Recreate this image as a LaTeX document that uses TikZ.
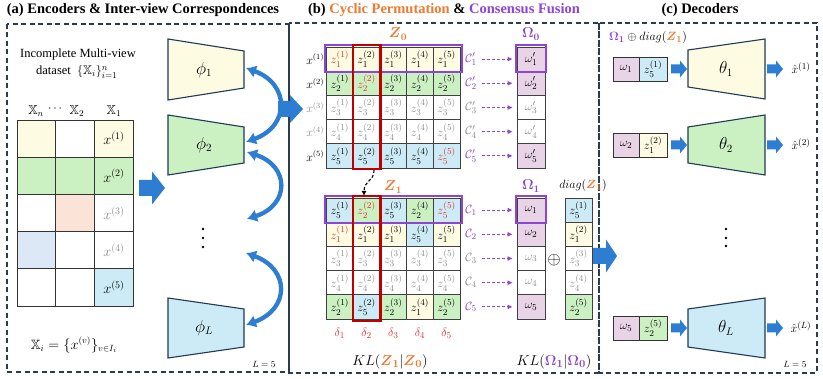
\documentclass[tikz,border=0pt]{standalone}
\usepackage{amsmath,amssymb}
\usepackage{fontspec}
\setmainfont{Liberation Serif}
\usetikzlibrary{arrows.meta}
\definecolor{cream}{HTML}{FEFBE3}
\definecolor{grn}{HTML}{CBF1C3}
\definecolor{cyanb}{HTML}{CDEBF6}
\definecolor{pinkc}{HTML}{E9D4E7}
\definecolor{peach}{HTML}{FBE4D7}
\definecolor{lblue}{HTML}{DCE8F5}
\definecolor{purp}{HTML}{8E44D4}
\definecolor{orng}{HTML}{EE7B30}
\definecolor{redb}{HTML}{C00000}
\definecolor{redt}{HTML}{E0302A}
\definecolor{arrb}{HTML}{2D7DD2}
\definecolor{navy}{HTML}{1E3A56}
\definecolor{dashc}{HTML}{2B3C4E}
\definecolor{grayt}{HTML}{8C8C8C}
\newcommand\bZ[1]{\boldsymbol{Z}_{\boldsymbol{#1}}}
\newcommand\bO[1]{\boldsymbol{\Omega}_{\boldsymbol{#1}}}
\newcommand\zrow[4]{%
  \foreach \zf/\zs/\zt [count=\zc] in {#4}{%
    \node[zcell, fill=\zf, text=\zt] (#1-#2-\zc) at ({326.5+(\zc-0.5)*26.7},{#3+12.1}) {$z_{\zs}^{(\zc)}$};}}
\newcommand\blockarrow[6]{\fill[arrb] (#1,#3-#4) -- (#5,#3-#4) -- (#5,#3-#6) -- (#2,#3) -- (#5,#3+#6) -- (#5,#3+#4) -- (#1,#3+#4) -- cycle;}
\begin{document}
\begin{tikzpicture}[x=1pt,y=-1pt,
  panel/.style={draw=dashc, dash pattern=on 5pt off 3.5pt, line width=1.1pt},
  title/.style={font=\fontsize{14.5}{16}\selectfont\bfseries, inner sep=0pt},
  tcell/.style={draw=black!80, line width=0.8pt, minimum width=38.8pt, minimum height=37.2pt, inner sep=0pt, font=\fontsize{14}{15}\selectfont},
  zcell/.style={draw=black!75, line width=0.6pt, minimum width=26.7pt, minimum height=24.2pt, inner sep=0pt, font=\fontsize{12.5}{13}\selectfont},
  ocell/.style={draw=black!75, line width=0.6pt, minimum width=28pt, minimum height=24.2pt, inner sep=0pt, font=\fontsize{12.5}{13}\selectfont},
  pcell/.style={draw=black!80, line width=0.7pt, minimum width=27pt, minimum height=24pt, inner sep=0pt, font=\fontsize{12.5}{13}\selectfont},
  enc/.style={draw=navy, line width=1.1pt},
  lbl/.style={inner sep=0pt},
  dasharr/.style={purp, dash pattern=on 3pt off 2pt, line width=1pt, -{Latex[length=5pt,width=5pt]}},
  curvarr/.style={arrb, line width=4.3pt, {Latex[length=10pt,width=13pt]}-{Latex[length=10pt,width=13pt]}},
  purpbox/.style={draw=purp, line width=2.2pt},
  redbox/.style={draw=redb, line width=2.2pt}
]
\useasboundingbox (0,0) rectangle (823,379);
\fill[white] (0,0) rectangle (823,379);

% ---------- titles ----------
\node[title] (ta) at (143,10) {(a) Encoders \& Inter-view Correspondences};
\node[title] (tb) at (444,10) {(b) \textcolor{orng}{Cyclic Permutation} \& \textcolor{purp}{Consensus Fusion}};
\node[title] (tc) at (700,10) {(c) Decoders};

% ---------- panels ----------
\draw[panel] (7,24) rectangle (289,372);
\draw[panel] (289,23) rectangle (599,373);
\draw[panel] (599,23) rectangle (817,373);

% ================= panel (a) =================
\node[lbl, font=\fontsize{12.5}{14}\selectfont] (inc) at (78,54) {Incomplete Multi-view};
\node[lbl, font=\fontsize{12.5}{14}\selectfont, anchor=west] (dset) at (36,72) {dataset\ \ $\{\mathbb{X}_i\}_{i=1}^{n}$};
\node[lbl, font=\fontsize{13}{14}\selectfont] (hXn) at (36,111) {$\mathbb{X}_n$};
\node[lbl, font=\fontsize{13}{14}\selectfont] (hdots) at (56,109) {$\cdots$};
\node[lbl, font=\fontsize{13}{14}\selectfont] (hX2) at (77,111) {$\mathbb{X}_2$};
\node[lbl, font=\fontsize{13}{14}\selectfont] (hX1) at (114,111) {$\mathbb{X}_1$};

\foreach \r/\fa/\fb/\fc/\tc in {1/cream/white/cream/black, 2/grn/grn/grn/black, 3/white/peach/white/grayt, 4/lblue/white/white/grayt, 5/white/white/cyanb/black}{
  \node[tcell, fill=\fa] (ta-\r-1) at (36.4,{120+(\r-0.5)*37.2}) {};
  \node[tcell, fill=\fb] (ta-\r-2) at (75.2,{120+(\r-0.5)*37.2}) {};
  \node[tcell, fill=\fc, text=\tc] (ta-\r-3) at (114,{120+(\r-0.5)*37.2}) {$x^{(\r)}$};
}
\node[lbl, font=\fontsize{13.5}{14}\selectfont] (Xi) at (74,345) {$\mathbb{X}_i=\{x^{(v)}\}_{v\in I_i}$};

% big arrow table -> encoders
\blockarrow{139}{165}{188}{8}{152}{16.5}

% encoders
\draw[enc, fill=cream] (168,39) -- (244,51) -- (244,88) -- (168,100) -- cycle;
\draw[enc, fill=grn] (168,115) -- (244,127) -- (244,163) -- (168,175) -- cycle;
\draw[enc, fill=cyanb] (168,298) -- (244,309) -- (244,347) -- (168,358) -- cycle;
\node[lbl, font=\fontsize{16}{17}\selectfont] (phi1) at (204,70) {$\phi_1$};
\node[lbl, font=\fontsize{16}{17}\selectfont] (phi2) at (204,145) {$\phi_2$};
\node[lbl, font=\fontsize{16}{17}\selectfont] (phiL) at (204,328) {$\phi_L$};
\coordinate (p1b) at (246,68);
\coordinate (p2a) at (246,142);
\coordinate (p2b) at (247,152);
\coordinate (pda) at (247,219);
\coordinate (pdb) at (246,253);
\coordinate (pLa) at (246,325);
\draw[curvarr] (p1b) .. controls (290,84) and (290,126) .. (p2a);
\draw[curvarr] (p2b) .. controls (290,166) and (290,205) .. (pda);
\draw[curvarr] (pdb) .. controls (290,269) and (290,309) .. (pLa);
\foreach \yy in {229,238,247}{\fill (203,\yy) circle (1.3pt);}
\node[lbl, font=\fontsize{9.5}{10}\selectfont] (La) at (264,364) {$L=5$};

% big arrow (a) -> (b)
\blockarrow{278}{303}{109}{8}{290}{14}

% ================= panel (b) =================
\node[lbl, font=\fontsize{14}{15}\selectfont, text=orng] (Z0) at (398,34) {$\bZ{0}$};
\node[lbl, font=\fontsize{14}{15}\selectfont, text=purp] (O0) at (531,34) {$\bO{0}$};

\zrow{zt}{1}{47}{cream/1/redt, cream/1/black, cream/1/black, cream/1/black, cream/1/black}
\zrow{zt}{2}{71.2}{grn/2/black, grn/2/redt, grn/2/black, grn/2/black, grn/2/black}
\zrow{zt}{3}{95.4}{white/3/grayt, white/3/grayt, white/3/grayt, white/3/grayt, white/3/grayt}
\zrow{zt}{4}{119.6}{white/4/grayt, white/4/grayt, white/4/grayt, white/4/grayt, white/4/grayt}
\zrow{zt}{5}{143.8}{cyanb/5/black, cyanb/5/black, cyanb/5/black, cyanb/5/black, cyanb/5/redt}

\foreach \r/\oc/\tc/\cc in {1/pinkc/black/purp, 2/pinkc/black/purp, 3/white/grayt/grayt, 4/white/grayt/grayt, 5/pinkc/black/purp}{
  \node[lbl, anchor=east, text=\tc, font=\fontsize{11.5}{12}\selectfont] (xl-\r) at (324.5,{47+(\r-0.5)*24.2}) {$x^{(\r)}$};
  \node[lbl, text=\cc, font=\fontsize{12.5}{13}\selectfont] (ct-\r) at (471,{47+(\r-0.5)*24.2}) {$\mathcal{C}'_{\r}$};
  \node[ocell, fill=\oc, text=\tc] (ot-\r) at (531,{47+(\r-0.5)*24.2}) {$\omega'_{\r}$};
  \draw[dasharr] ([xshift=5pt]ct-\r.east) -- ([xshift=-4pt]ot-\r.west);
}
\draw[purpbox] ([shift={(-1.5pt,1.5pt)}]zt-1-1.north west) rectangle ([shift={(1.5pt,-0.5pt)}]zt-1-5.south east);
\draw[redbox] ([shift={(-0.3pt,2pt)}]zt-1-2.north west) rectangle ([shift={(0.3pt,-0.8pt)}]zt-5-2.south east);
\draw[purpbox] ([shift={(-1pt,1.5pt)}]ot-1.north west) rectangle ([shift={(1pt,-0.5pt)}]ot-1.south east);

% dashed connector between matrices
\coordinate (rt) at (374,170);
\coordinate (rb) at (364,196);
\draw[black, line width=1.1pt, dash pattern=on 3pt off 2pt, -{Latex[length=5pt,width=5pt]}] (rt) .. controls (374,182) and (364,180) .. (rb);

\node[lbl, font=\fontsize{14}{15}\selectfont, text=orng] (Z1) at (393,187) {$\bZ{1}$};
\node[lbl, font=\fontsize{14}{15}\selectfont, text=purp] (O1) at (531,186) {$\bO{1}$};
\node[lbl, font=\fontsize{12.5}{13}\selectfont] (dg) at (583,186) {$diag(\textcolor{orng}{\bZ{1}})$};

\zrow{zb}{1}{198}{cyanb/5/black, grn/2/redt, cyanb/5/black, grn/2/black, cyanb/5/redt}
\zrow{zb}{2}{222.2}{cream/1/redt, cream/1/black, cream/1/black, cyanb/5/black, cream/1/black}
\zrow{zb}{3}{246.4}{white/3/grayt, white/3/grayt, white/3/grayt, white/3/grayt, white/3/grayt}
\zrow{zb}{4}{270.6}{white/4/grayt, white/4/grayt, white/4/grayt, white/4/grayt, white/4/grayt}
\zrow{zb}{5}{294.8}{grn/2/black, cyanb/5/black, grn/2/black, cream/1/black, grn/2/black}

\foreach \r/\oc/\tc/\cc/\df/\ds in {1/pinkc/black/purp/cyanb/5, 2/pinkc/black/purp/cream/1, 3/white/grayt/grayt/white/3, 4/white/grayt/grayt/white/4, 5/pinkc/black/purp/grn/2}{
  \node[lbl, text=\cc, font=\fontsize{12.5}{13}\selectfont] (cb-\r) at (471,{198+(\r-0.5)*24.2}) {$\mathcal{C}_{\r}$};
  \node[ocell, fill=\oc, text=\tc] (ob-\r) at (531,{198+(\r-0.5)*24.2}) {$\omega_{\r}$};
  \node[ocell, minimum width=27pt, fill=\df, text=\tc] (db-\r) at (578.5,{198+(\r-0.5)*24.2}) {$z_{\ds}^{(\r)}$};
  \draw[dasharr] ([xshift=5pt]cb-\r.east) -- ([xshift=-4pt]ob-\r.west);
}
\draw[purpbox] ([shift={(-1.5pt,1.5pt)}]zb-1-1.north west) rectangle ([shift={(1.5pt,-0.5pt)}]zb-1-5.south east);
\draw[redbox] ([shift={(-0.3pt,2pt)}]zb-1-2.north west) rectangle ([shift={(0.3pt,-1.5pt)}]zb-5-2.south east);
\draw[purpbox] ([shift={(-1pt,1.5pt)}]ob-1.north west) rectangle ([shift={(1pt,-0.5pt)}]ob-1.south east);
\node[lbl, font=\fontsize{16}{17}\selectfont] (oplus) at (554,260) {$\oplus$};

\foreach \c in {1,...,5}{
  \node[lbl, text=redt, font=\fontsize{12.5}{13}\selectfont] (dl-\c) at ({326.5+(\c-0.5)*26.7},333) {$\delta_{\c}$};
}
\node[lbl, font=\fontsize{15}{16}\selectfont] (klz) at (390,362) {$KL(\textcolor{orng}{\bZ{1}}|\textcolor{orng}{\bZ{0}})$};
\node[lbl, font=\fontsize{15}{16}\selectfont] (klo) at (554,362) {$KL(\textcolor{purp}{\bO{1}}|\textcolor{purp}{\bO{0}})$};

% big arrow (b) -> (c)
\blockarrow{593}{617}{256}{8}{606}{16.5}

% ================= panel (c) =================
\node[lbl, font=\fontsize{12.5}{13}\selectfont] (hc) at (648,38) {$\textcolor{purp}{\bO{1}}\oplus diag(\textcolor{orng}{\bZ{1}})$};

\foreach \i/\yc/\wi/\zf/\zs/\zp/\tf/\tl/\tr/\bl/\br/\lab in
  {1/69/1/cyanb/5/1/cream/50/39/87/99/1, 2/145/2/cream/1/2/grn/127/115/163/175/2, 3/328/5/grn/2/5/cyanb/309/298/347/358/L}{
  \node[pcell, minimum width=26pt, fill=pinkc] (cw-\i) at (626,\yc) {$\omega_{\wi}$};
  \node[pcell, minimum width=28pt, fill=\zf] (cz-\i) at (653,\yc) {$z_{\zs}^{(\zp)}$};
  \draw[enc, fill=\tf] (688,\tl) -- (765,\tr) -- (765,\br) -- (688,\bl) -- cycle;
  \node[lbl, font=\fontsize{16}{17}\selectfont] (th-\i) at (726,\yc) {$\theta_{\lab}$};
  \node[lbl, font=\fontsize{13}{14}\selectfont] (xh-\i) at (801,{\yc-1}) {$\hat{x}^{(\lab)}$};
  \blockarrow{671}{687}{\yc}{4.5}{680}{8.5}
  \blockarrow{767}{783}{\yc}{4.5}{776}{8.5}
}
\foreach \yy in {229,238,246}{\fill (726,\yy) circle (1.3pt);}
\node[lbl, font=\fontsize{9.5}{10}\selectfont] (Lc) at (795,364) {$L=5$};
\end{tikzpicture}
\end{document}
